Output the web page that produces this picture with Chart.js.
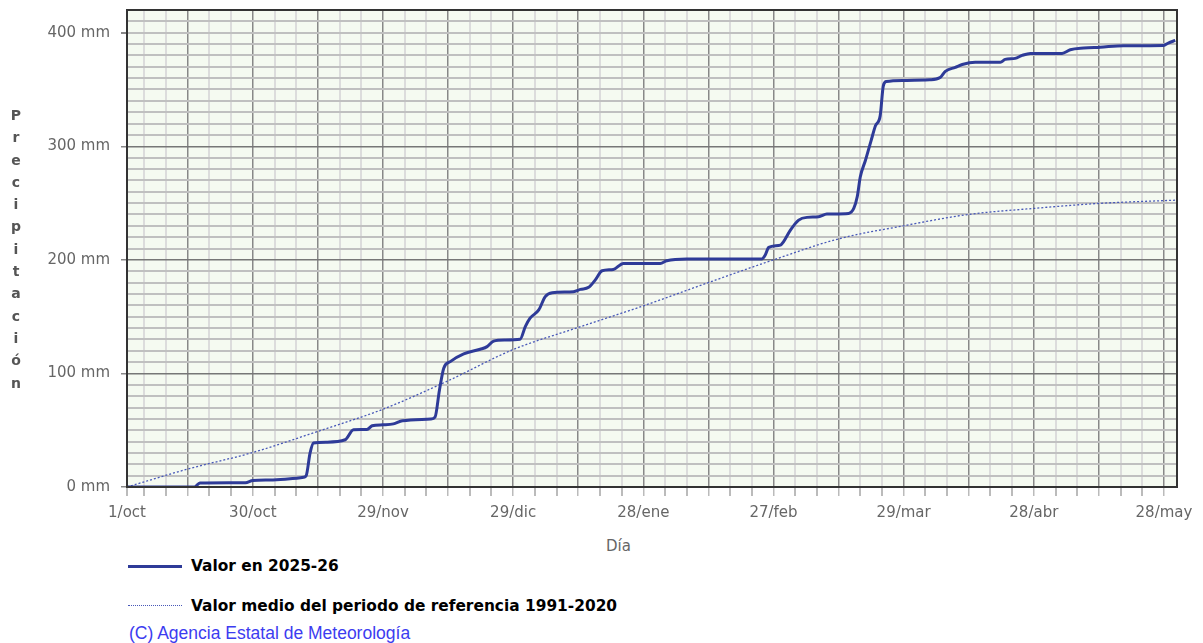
<!DOCTYPE html>
<html>
<head>
<meta charset="utf-8">
<script src="https://cdn.jsdelivr.net/npm/chart.js@4.4.1/dist/chart.umd.min.js"></script>
<style>
  body { margin:0; background:#fff; }
  #wrap { position:relative; width:1203px; height:643px; overflow:hidden; }
  #box { position:absolute; left:0; top:0; width:1203px; height:530px; }
  .abs { position:absolute; white-space:nowrap; }
  #ytitle { left:6px; top:104px; width:20px; text-align:center; font:bold 14px "DejaVu Sans"; color:#555; line-height:22.3px; }
  #xtitle { left:606px; top:537px; font:15px "DejaVu Sans"; color:#666; }
  .leg { left:191px; font:bold 15.4px "DejaVu Sans"; color:#000; line-height:20px; }
  #credit { left:129px; top:623px; font:17.5px "Liberation Sans"; color:#3c3cf0; line-height:20px; }
</style>
</head>
<body>
<div id="wrap">
  <div id="box"><canvas id="precipChart"></canvas></div>
  <div id="ytitle" class="abs">P<br>r<br>e<br>c<br>i<br>p<br>i<br>t<br>a<br>c<br>i<br>ó<br>n</div>
  <div id="xtitle" class="abs">Día</div>
  <div class="abs" style="left:128px;top:565px;width:54px;height:3px;background:#2e3b98"></div>
  <div class="abs leg" style="top:556px">Valor en 2025-26</div>
  <div class="abs" style="left:128px;top:605px;width:54px;height:0;border-top:1px dotted #4858b8"></div>
  <div class="abs leg" style="top:596px">Valor medio del periodo de referencia 1991-2020</div>
  <div id="credit" class="abs">(C) Agencia Estatal de Meteorología</div>
</div>
<script>
// day 1 = 1/oct
const tickDays   = [1, 30, 60, 90, 120, 150, 180, 210, 240];
const tickLabels = ['1/oct','30/oct','29/nov','29/dic','28/ene','27/feb','29/mar','28/abr','28/may'];

// cumulative precipitation 2025-26 (mm)
const obsDays = [1,16.5,17.8,28.3,30,34,38,41.7,42.3,43.2,44,47,51.3,53.2,56.3,57.5,60,62.4,64.5,71,72,73,74,75.5,78.6,82.4,84,85.5,88,91.6,
  92.8,93.9,95.9,97.4,99,103.9,105.5,107.4,108.9,110.5,113.1,115.4,123.9,125.4,130,147.3,148.1,148.9,151.6,152.3,153.9,155.8,157.7,160.4,
  162.3,167.3,168.5,169.3,170,171.2,172.5,173.5,174.6,175.3,176,180,186,188.4,189.6,191.9,193.5,196.5,202.3,203.4,205.7,207.3,209.2,
  216.5,218.4,221.5,225.3,230.7,239.9,241,242.6];
const obsMm = [0,0,3.5,3.8,5.8,6.2,7,8.5,10,30,38.7,39.5,41.6,50.4,50.6,53.9,54.8,55.6,58.3,59.8,61.5,85,104.6,110.4,117.2,121.3,123.6,128.5,129.5,130.1,
  141.2,148.6,155.9,167.6,171,172,174,175.8,182.2,190.4,191.6,196.9,196.9,199.2,200.7,200.7,204.2,211,213,215.9,226.2,235,237.4,237.9,
  240.3,240.9,245.3,255.5,273,287.7,305,318,327,353,357,358,358.5,360.5,366,369.5,372,374,374,376.5,377.4,380,381.8,
  381.8,385,386.5,387.3,388.6,388.8,390.9,393.2];

// mean 1991-2020 (mm)
const refDays = [1, 15, 30, 45, 60, 75, 90, 105, 120, 135, 150, 165, 180, 195, 210, 225, 243];
const refMm   = [0, 15.8, 30.4, 49, 68.5, 93.5, 121, 140.5, 159.5, 180, 200, 218.5, 230, 240, 245.3, 249.7, 252.6];

const toXY = (xs, ys) => xs.map((x, i) => ({ x: x, y: ys[i] }));

const frame = {
  id: 'frame',
  beforeDraw(chart) {
    const a = chart.chartArea, c = chart.ctx;
    c.save(); c.fillStyle = '#f5faf1';
    c.fillRect(a.left, a.top, a.right - a.left, a.bottom - a.top);
    c.restore();
  },
  afterDraw(chart) {
    const a = chart.chartArea, c = chart.ctx;
    c.save(); c.strokeStyle = '#333'; c.lineWidth = 2;
    c.strokeRect(a.left, a.top, a.right - a.left, a.bottom - a.top);
    c.restore();
  }
};

new Chart(document.getElementById('precipChart'), {
  type: 'line',
  data: {
    datasets: [
      { label: 'Valor en 2025-26', data: toXY(obsDays, obsMm), borderColor: '#2e3b98', borderWidth: 3,
        pointRadius: 0, cubicInterpolationMode: 'monotone' },
      { label: 'Valor medio del periodo de referencia 1991-2020', data: toXY(refDays, refMm), borderColor: '#4858b8',
        borderWidth: 1.3, borderDash: [2, 2], pointRadius: 0, cubicInterpolationMode: 'monotone' }
    ]
  },
  options: {
    responsive: true, maintainAspectRatio: false, animation: false,
    layout: { padding: { left: 0, right: 26, top: 10, bottom: 0 } },
    plugins: { legend: { display: false }, tooltip: { enabled: false } },
    scales: {
      x: {
        type: 'linear', min: 1, max: 243,
        afterBuildTicks: s => {
          const t = [{ value: 1 }];
          for (let d = 5; d <= 240; d += 5) t.push({ value: d });
          s.ticks = t;
        },
        afterFit: s => { s.height = 43; },
        grid: {
          color: c => (c.tick && c.tick.value % 15 === 0) ? '#888' : '#dcdcdc',
          lineWidth: c => (c.tick && c.tick.value % 15 === 0) ? 1.5 : 2,
          tickColor: '#bbb', tickLength: 9
        },
        border: { display: false },
        ticks: {
          autoSkip: false, maxRotation: 0, padding: 8, color: '#666', font: { family: 'DejaVu Sans', size: 15 },
          callback: v => { const i = tickDays.indexOf(v); return i >= 0 ? tickLabels[i] : ''; }
        }
      },
      y: {
        min: 0, max: 420,
        afterFit: s => { s.width = 127; s.paddingTop = 0; },
        grid: {
          color: c => (c.tick && c.tick.value % 100 === 0 && c.tick.value < 400) ? '#777' : '#c0c0c0',
          lineWidth: c => (c.tick && c.tick.value % 100 === 0 && c.tick.value < 400) ? 1.5 : 2,
          tickColor: c => (c.tick && c.tick.value % 100 === 0) ? '#888' : 'rgba(0,0,0,0)',
          tickLength: 6
        },
        border: { display: false },
        ticks: {
          stepSize: 10, autoSkip: false, padding: 11, color: '#666', font: { family: 'DejaVu Sans', size: 15 },
          callback: v => v % 100 === 0 ? v + ' mm' : ''
        }
      }
    }
  },
  plugins: [frame]
});
</script>
</body>
</html>
